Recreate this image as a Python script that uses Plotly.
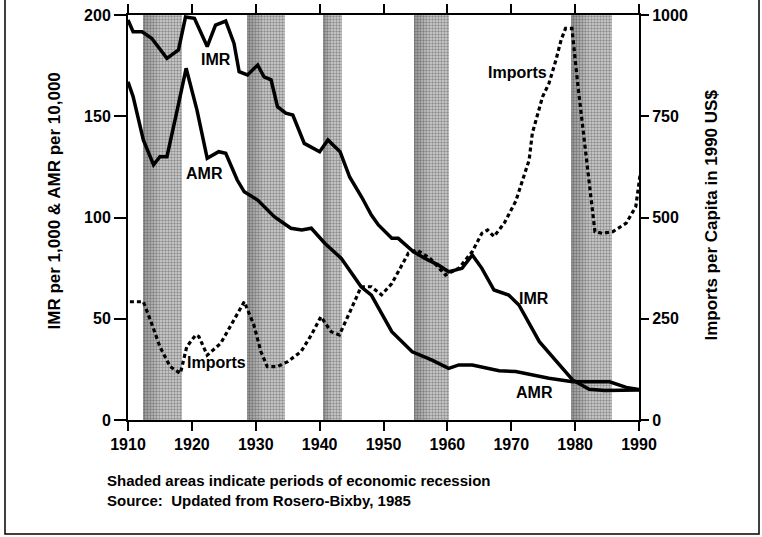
import plotly.graph_objects as go

# ---------------- data ----------------
imr_year = [1910, 1910.8, 1912.2, 1913.7, 1916.1, 1917.9, 1919, 1920.4, 1922.4, 1923.7, 1925.3,
            1926.6, 1927.4, 1928.7, 1930.3, 1931.3, 1932.4, 1933.4, 1934.7, 1935.8, 1937.6,
            1940, 1941.3, 1943.2, 1944.7, 1946.6, 1948.1, 1949.2, 1951.3, 1952.3, 1954.7,
            1956.5, 1958.6, 1960.2, 1962.3, 1963.9, 1965.4, 1967.3, 1969.6, 1971.2, 1974.4,
            1976.5, 1979.6, 1982.2, 1984.6, 1990]
imr_val = [197.5, 191.7, 191.7, 188.5, 178.6, 182.7, 199, 198.4, 184.4, 195, 197,
           186, 172, 170.4, 175.3, 169.5, 168, 154.7, 151.5, 150.6, 136.6,
           132.5, 138.3, 132.5, 120, 110, 101.2, 96.3, 89.7, 89.7, 83.1,
           79.8, 76.5, 73.2, 74.9, 81.5, 74.9, 64.2, 61.7, 56.8, 38.7,
           31.3, 19.8, 15.2, 14.6, 14.8]

amr_year = [1910, 1910.8, 1912.4, 1914, 1915, 1916.1, 1917.7, 1919.1, 1920.8, 1922.4, 1924.2,
            1925.3, 1927.1, 1928.2, 1930.3, 1932.9, 1935.5, 1937.2, 1938.7, 1940.8, 1943.4,
            1946.5, 1948.1, 1949.7, 1951.3, 1954.5, 1957.6, 1960.2, 1961.8, 1963.9, 1968.1,
            1970.7, 1975.9, 1979.6, 1982.2, 1985.4, 1988, 1990]
amr_val = [167, 159.7, 138.3, 126, 130, 130, 153, 173.7, 153, 129.2, 132.5,
           131.7, 118.5, 112.7, 108.6, 100.4, 94.7, 93.8, 94.7, 87.3, 79.8,
           65.8, 61.7, 52.7, 43.6, 33.7, 29.6, 25.5, 27.2, 27.2, 24.3,
           23.9, 20.6, 18.9, 18.9, 18.9, 16.1, 15]

imp_year = [1910.3, 1912.4, 1913.5, 1915, 1916.6, 1918.2, 1919.2, 1920.6, 1921.1, 1922.4, 1924.5,
            1926.6, 1928.2, 1929.7, 1930.8, 1931.8, 1933.4, 1935, 1937.1, 1938.7, 1940.2,
            1941.8, 1943.1, 1945, 1946.5, 1948.1, 1949.7, 1951.3, 1953.9, 1955.2, 1957.3,
            1959.7, 1961.8, 1963.9, 1965.4, 1966.3, 1967.3, 1968.9, 1970.7, 1972.8, 1973.3,
            1974.9, 1975.9, 1977, 1977.8, 1978.5, 1979.5, 1980.4, 1981.2, 1982.3, 1983.1,
            1984.3, 1985.9, 1988, 1989.5, 1990.2]
imp_val = [292, 292, 247, 181, 132, 115, 181, 210, 206, 160, 189,
           247, 292, 235, 169, 132, 132, 144, 169, 210, 255,
           218, 210, 276, 329, 329, 309, 337, 412, 420, 399,
           358, 375, 416, 461, 469, 453, 486, 540, 642, 708,
           798, 831, 889, 938, 967, 967, 831, 724, 576, 465,
           461, 465, 486, 527, 609]

recession_start = [1912.3, 1928.7, 1940.5, 1954.7, 1979.4]
recession_end = [1918.5, 1934.6, 1943.5, 1960.3, 1985.7]

x_ticks = [1910, 1920, 1930, 1940, 1950, 1960, 1970, 1980, 1990]
y_ticks = [0, 50, 100, 150, 200]
y2_ticks = [0, 250, 500, 750, 1000]

FONT = "Liberation Sans, Arial, sans-serif"
W, H = 762, 537
ml, mr, mt, mb = 128, 123, 15, 117
pw, ph = W - ml - mr, H - mt - mb

fig = go.Figure()

# shaded recession bands (stippled, darker toward the left edge)
for s, e in zip(recession_start, recession_end):
    w = e - s
    fig.add_trace(go.Bar(
        x=[(s + e) / 2], y=[200], width=[w], base=[0],
        marker=dict(color="#c8c8c8", line=dict(width=0),
                    pattern=dict(shape=".", fgcolor="#4a4a4a", bgcolor="#d2d2d2",
                                 size=3, solidity=0.5)),
        hoverinfo="skip", showlegend=False))
    n = 6
    for k in range(n):
        x0 = s + w * 0.07 * k
        x1 = s + w * 0.07 * (k + 1)
        fig.add_trace(go.Bar(
            x=[(x0 + x1) / 2], y=[200], width=[x1 - x0], base=[0],
            marker=dict(color="rgba(50,50,50,%.3f)" % (0.30 * (1 - k / n)), line=dict(width=0)),
            hoverinfo="skip", showlegend=False))

fig.add_trace(go.Scatter(x=imr_year, y=imr_val, mode="lines",
                         line=dict(color="black", width=3.5), showlegend=False))
fig.add_trace(go.Scatter(x=amr_year, y=amr_val, mode="lines",
                         line=dict(color="black", width=3.5), showlegend=False))
fig.add_trace(go.Scatter(x=imp_year, y=imp_val, mode="lines", yaxis="y2",
                         line=dict(color="black", width=3.2, dash="4px,3px"),
                         showlegend=False))

lab_font = dict(family=FONT, size=16, color="black", weight="bold")
labels = [("IMR", 1923.8, 177.8, "y"), ("AMR", 1921.9, 121.5, "y"),
          ("Imports", 1970.9, 859, "y2"), ("Imports", 1923.8, 141, "y2"),
          ("IMR", 1973.5, 60.2, "y"), ("AMR", 1973.7, 13.8, "y")]
for t, x, y, yr in labels:
    fig.add_annotation(text=t, x=x, y=y, xref="x", yref=yr, showarrow=False,
                       font=lab_font)


def px(xp):
    return (xp - ml) / pw


def py(yp):
    return 1 - (yp - mt) / ph


# axis titles
fig.add_annotation(text="IMR per 1,000 & AMR per 10,000", x=px(42), y=py(201),
                   xref="paper", yref="paper", showarrow=False, textangle=-90,
                   font=dict(family=FONT, size=17, color="black", weight="bold"))
fig.add_annotation(text="Imports per Capita in 1990 US$", x=px(722), y=py(215),
                   xref="paper", yref="paper", showarrow=False, textangle=-90,
                   font=dict(family=FONT, size=17, color="black", weight="bold"))

fig.add_annotation(text="Shaded areas indicate periods of economic recession<br>Source:  Updated from Rosero-Bixby, 1985",
                   x=px(105), y=py(490), xref="paper", yref="paper", showarrow=False,
                   xanchor="left", yanchor="middle", align="left",
                   font=dict(family=FONT, size=15, color="black", weight="bold"))

# outer frame (left, right, bottom)
fig.add_shape(type="path", xref="paper", yref="paper",
              path="M %f,%f L %f,%f L %f,%f L %f,%f" % (
                  px(5), py(-5), px(5), py(534), px(759), py(534), px(759), py(-5)),
              line=dict(color="black", width=1.5))

tick_font = dict(family=FONT, size=16, color="black", weight="bold")
fig.update_layout(
    width=W, height=H,
    margin=dict(l=ml, r=mr, t=mt, b=mb, autoexpand=False),
    paper_bgcolor="white", plot_bgcolor="white",
    barmode="overlay", bargap=0,
    xaxis=dict(range=[1910, 1990], tickvals=x_ticks, ticks="outside", ticklen=9,
               tickwidth=2, linecolor="black", linewidth=2, mirror="ticks",
               showgrid=False, zeroline=False, tickfont=tick_font, tickcolor="black"),
    yaxis=dict(range=[0, 200], tickvals=y_ticks, ticks="outside", ticklen=12,
               tickwidth=2, linecolor="black", linewidth=2, showgrid=False,
               zeroline=False, tickfont=tick_font, tickcolor="black"),
    yaxis2=dict(range=[0, 1000], tickvals=y2_ticks, overlaying="y", side="right",
                ticks="outside", ticklen=8, tickwidth=2, linecolor="black", linewidth=2,
                showgrid=False, zeroline=False, tickfont=tick_font, tickcolor="black"),
)

fig.write_html("out.html", config={"displayModeBar": False},
               post_script="document.body.style.margin='0px';")
